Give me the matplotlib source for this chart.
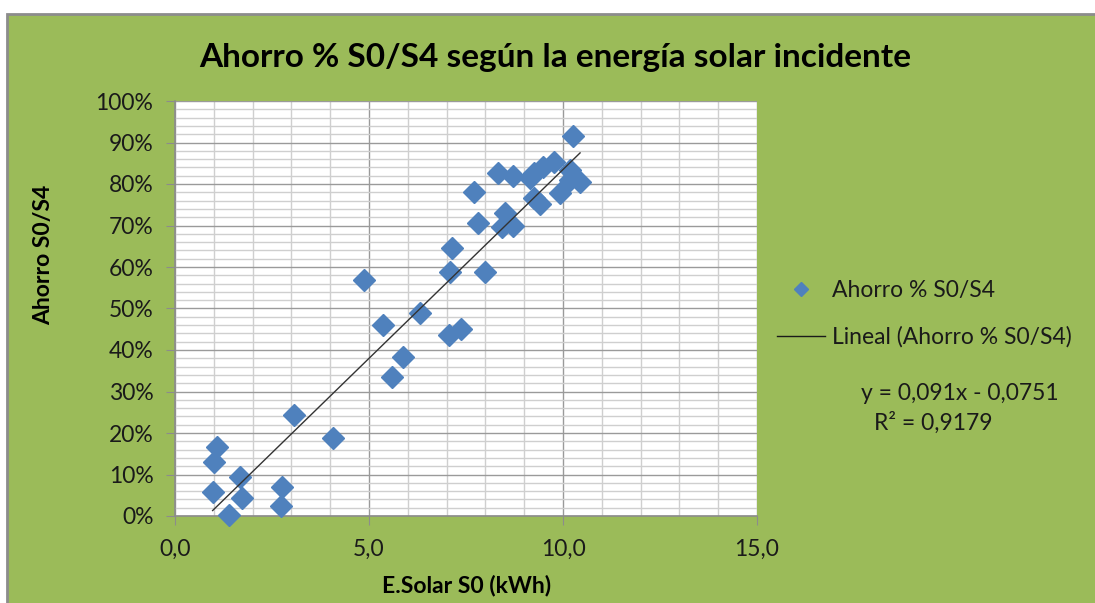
import numpy as np
import matplotlib.pyplot as plt
from matplotlib.patches import Rectangle
from matplotlib.ticker import MultipleLocator, FuncFormatter
from matplotlib.lines import Line2D

# data: solar energy S0 (kWh) vs savings S0/S4
esolar = [0.97, 1.0, 1.07, 1.4, 1.68, 1.72, 2.72, 2.75, 3.07, 4.08,
          4.87, 5.35, 5.58, 5.87, 6.31, 7.07, 7.09, 7.13, 7.36, 7.71,
          7.82, 7.99, 8.32, 8.42, 8.51, 8.72, 8.72, 9.15, 9.24, 9.24,
          9.41, 9.49, 9.77, 9.92, 10.18, 10.18, 10.25, 10.44]
ahorro = [0.059, 0.131, 0.167, 0.002, 0.095, 0.043, 0.024, 0.069, 0.243, 0.187,
          0.569, 0.46, 0.336, 0.382, 0.488, 0.436, 0.587, 0.645, 0.45, 0.781,
          0.705, 0.589, 0.826, 0.697, 0.729, 0.819, 0.699, 0.814, 0.826, 0.766,
          0.753, 0.842, 0.854, 0.778, 0.834, 0.81, 0.916, 0.806]

# Excel linear trendline as printed on the chart
slope = 0.091
intercept = -0.0751
r2 = 0.9179

GREEN = '#9BBB59'
BLUE = '#4F81BD'
FONT = 'Lato'
FS = 16.5

fig = plt.figure(figsize=(10.95, 6.03), dpi=100)
fig.patch.set_facecolor('white')

# chart area (green box with grey border, clipped by image edge)
W, H = 1095, 603
bg = Rectangle((7 / W, -0.05), 1.2, 1 - 14 / H + 0.05, transform=fig.transFigure,
               facecolor=GREEN, edgecolor='#8C8C8C', linewidth=2, zorder=-10)
fig.patches.append(bg)

ax = fig.add_axes([175 / W, 1 - 516 / H, (757 - 175) / W, (516 - 101) / H])
ax.set_facecolor('white')

ax.set_xlim(0, 15)
ax.set_ylim(0, 1)
ax.xaxis.set_major_locator(MultipleLocator(5))
ax.xaxis.set_minor_locator(MultipleLocator(1))
ax.yaxis.set_major_locator(MultipleLocator(0.1))
ax.yaxis.set_minor_locator(MultipleLocator(0.02))
ax.xaxis.set_major_formatter(FuncFormatter(lambda v, p: f'{v:.1f}'.replace('.', ',')))
ax.yaxis.set_major_formatter(FuncFormatter(lambda v, p: f'{v * 100:.0f}%'))

ax.grid(which='minor', color='#CFCFCF', linewidth=1.0)
ax.grid(which='major', color='#9A9A9A', linewidth=1.0)
ax.set_axisbelow(True)
for s in ['top', 'right']:
    ax.spines[s].set_visible(False)
for s in ['left', 'bottom']:
    ax.spines[s].set_color('#8C8C8C')
    ax.spines[s].set_linewidth(1.2)
ax.tick_params(which='major', direction='out', length=6.5, color='#8C8C8C',
               labelsize=FS, labelcolor='#1A1A1A')
ax.tick_params(axis='y', pad=9)
ax.tick_params(axis='x', pad=10)
ax.tick_params(which='minor', length=0)
for lab in ax.get_xticklabels() + ax.get_yticklabels():
    lab.set_fontfamily(FONT)

ax.plot(esolar, ahorro, linestyle='none', marker='D', markersize=11,
        color=BLUE, clip_on=False, zorder=3)

xfit = np.array([min(esolar), max(esolar)])
ax.plot(xfit, slope * xfit + intercept, color='#333333', linewidth=1.0, zorder=4)

fig.text(555 / W, 1 - 58 / H, 'Ahorro % S0/S4 según la energía solar incidente',
         ha='center', va='center', fontsize=24, fontweight='bold', family=FONT)
fig.text(44 / W, 1 - 255 / H, 'Ahorro S0/S4', rotation=90, ha='center', va='center',
         fontsize=FS, fontweight='bold', family=FONT)
fig.text(467 / W, 1 - 585 / H, 'E.Solar S0 (kWh)', ha='center', va='center',
         fontsize=FS, fontweight='bold', family=FONT)

handles = [Line2D([], [], linestyle='none', marker='D', markersize=7, color=BLUE),
           Line2D([], [], color='#1A1A1A', linewidth=1.0)]
leg = fig.legend(handles, ['Ahorro % S0/S4', 'Lineal (Ahorro % S0/S4)'],
                 loc='upper left', bbox_to_anchor=(777 / W, 1 - 280 / H),
                 frameon=False, handlelength=2.1, handletextpad=0.3,
                 labelspacing=1.1, prop={'family': FONT, 'size': FS},
                 borderaxespad=0, borderpad=0)
for t in leg.get_texts():
    t.set_color('#1A1A1A')

fig.text(960 / W, 1 - 393 / H, f'y = {slope:.3f}x - {abs(intercept):.4f}'.replace('.', ','),
         ha='center', va='center', fontsize=FS, family=FONT, color='#1A1A1A')
fig.text(933 / W, 1 - 423 / H, f'R² = {r2:.4f}'.replace('.', ','),
         ha='center', va='center', fontsize=FS, family=FONT, color='#1A1A1A')

fig.savefig('out.png', dpi=100)
